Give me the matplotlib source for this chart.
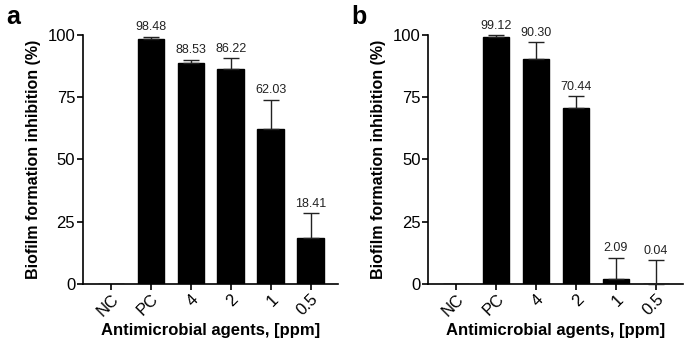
import numpy as np
import matplotlib.pyplot as plt

plt.rcParams['font.family'] = ['Liberation Sans', 'DejaVu Sans']

categories = ["NC", "PC", "4", "2", "1", "0.5"]

vals_a = [0, 98.48, 88.53, 86.22, 62.03, 18.41]
err_a = [0, 0.8, 1.5, 4.3, 12.0, 9.9]
labels_a = ["", "98.48", "88.53", "86.22", "62.03", "18.41"]

vals_b = [0, 99.12, 90.30, 70.44, 2.09, 0.04]
err_b = [0, 0.8, 6.8, 4.9, 8.4, 9.5]
labels_b = ["", "99.12", "90.30", "70.44", "2.09", "0.04"]


def panel(ax, vals, err, labels, letter):
    x = np.arange(len(categories))
    ax.bar(x, vals, width=0.66, color="black", edgecolor="black", zorder=2)
    for i in range(len(x)):
        if labels[i] == "":
            continue
        ax.errorbar(x[i], vals[i], yerr=[[0], [err[i]]], fmt="none",
                    ecolor="#222222", elinewidth=1.0, capsize=5.5,
                    capthick=1.0, clip_on=False, zorder=3)
        ax.annotate(labels[i], (x[i], vals[i] + err[i]), xytext=(0, 2.5),
                    textcoords="offset points", ha="center", va="bottom",
                    fontsize=9, color="#222222")
    ax.set_xlim(-0.7, 5.68)
    ax.set_ylim(0, 100)
    ax.set_yticks([0, 25, 50, 75, 100])
    ax.set_xticks(x)
    ax.set_xticklabels(categories, rotation=45, ha="right",
                       rotation_mode="anchor")
    for s in ["top", "right"]:
        ax.spines[s].set_visible(False)
    for s in ["left", "bottom"]:
        ax.spines[s].set_linewidth(1.2)
    ax.tick_params(width=1.2, length=4, labelsize=12, pad=1.5)
    ax.set_ylabel("Biofilm formation inhibition (%)", fontsize=11.5,
                  fontweight="bold", labelpad=5)
    ax.set_xlabel("Antimicrobial agents, [ppm]", fontsize=12,
                  fontweight="bold", labelpad=3)
    ax.text(-0.3, 1.12, letter, transform=ax.transAxes, fontsize=18,
            fontweight="bold", va="top", ha="left")


fig = plt.figure(figsize=(6.85, 3.42), dpi=100)
ax1 = fig.add_axes([0.121, 0.170, 0.372, 0.728])
ax2 = fig.add_axes([0.625, 0.170, 0.372, 0.728])
panel(ax1, vals_a, err_a, labels_a, "a")
panel(ax2, vals_b, err_b, labels_b, "b")

fig.savefig("out.png", dpi=100)
